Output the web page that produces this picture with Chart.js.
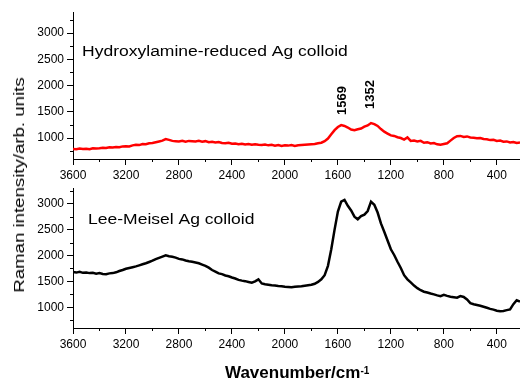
<!DOCTYPE html>
<html>
<head>
<meta charset="utf-8">
<script src="https://cdn.jsdelivr.net/npm/chart.js@4.4.0/dist/chart.umd.min.js"></script>
<style>
  body { margin: 0; background: #fff; }
  #wrap { position: relative; width: 520px; height: 381px; overflow: hidden; font-family: "Liberation Sans", Arial, sans-serif; }
  #top { position: absolute; left: 0; top: 0; }
  #bottom { position: absolute; left: 0; top: 178px; }
  .ytitle {
    position: absolute; left: 19px; top: 185px; white-space: nowrap;
    font-size: 14px; line-height: 14px; color: #000;
    transform: translate(-50%, -50%) rotate(-90deg) scaleX(1.33);
  }
  .xtitle {
    position: absolute; left: 225px; top: 364px; white-space: nowrap;
    font-size: 17px; line-height: 17px; font-weight: bold; color: #000;
  }
  .xtitle sup { font-size: 10px; position: relative; top: -2px; vertical-align: top; }
</style>
</head>
<body>
<div id="wrap">
  <canvas id="top" width="520" height="182"></canvas>
  <canvas id="bottom" width="520" height="203"></canvas>
  <div class="ytitle">Raman intensity/arb. units</div>
  <div class="xtitle">Wavenumber/cm<sup>-1</sup></div>
</div>
<script>
// wavenumbers (cm-1), shared by both spectra
const WAVENUMBERS = [
  3600, 3575, 3550, 3525, 3500, 3475, 3450, 3425, 3400, 3375, 3350, 3325, 3300, 3275, 3250, 3225,
  3200, 3175, 3150, 3125, 3100, 3075, 3050, 3025, 3000, 2975, 2950, 2925, 2900, 2875, 2850, 2825,
  2800, 2775, 2750, 2725, 2700, 2675, 2650, 2625, 2600, 2575, 2550, 2525, 2500, 2475, 2450, 2425,
  2400, 2375, 2350, 2325, 2300, 2275, 2250, 2225, 2200, 2175, 2150, 2125, 2100, 2075, 2050, 2025,
  2000, 1975, 1950, 1925, 1900, 1875, 1850, 1825, 1800, 1775, 1750, 1725, 1700, 1675, 1650, 1625,
  1600, 1575, 1550, 1525, 1500, 1475, 1450, 1425, 1400, 1375, 1350, 1325, 1300, 1275, 1250, 1225,
  1200, 1175, 1150, 1125, 1100, 1075, 1050, 1025, 1000, 975, 950, 925, 900, 875, 850, 825,
  800, 775, 750, 725, 700, 675, 650, 625, 600, 575, 550, 525, 500, 475, 450, 425,
  400, 375, 350, 325, 300, 275, 250, 225
];
// hydroxylamine-reduced colloid (red, upper panel)
const HYDROXYLAMINE = [
  790, 785, 800, 790, 795, 785, 805, 800, 805, 815, 810, 825, 820, 830, 825, 840,
  845, 840, 860, 870, 865, 885, 880, 900, 905, 920, 935, 950, 980, 965, 945, 940,
  935, 945, 930, 945, 940, 935, 945, 930, 940, 920, 930, 915, 925, 905, 900, 910,
  890, 895, 880, 890, 875, 885, 870, 880, 870, 865, 875, 860, 870, 855, 865, 850,
  860, 855, 865, 850, 860, 865, 870, 875, 880, 885, 900, 910, 940, 990, 1070, 1150,
  1210, 1245, 1230, 1200, 1160, 1150, 1165, 1180, 1215, 1240, 1285, 1265, 1230, 1170, 1120, 1085,
  1050, 1040, 1015, 1000, 970, 1010, 945, 950, 935, 945, 910, 920, 895, 905, 880, 870,
  885, 900, 950, 1000, 1035, 1040, 1020, 1030, 1010, 1005, 995, 1000, 980, 975, 960, 965,
  945, 950, 930, 935, 915, 925, 905, 915
];
// Lee-Meisel colloid (black, lower panel)
const LEE_MEISEL = [
  1680, 1670, 1685, 1665, 1670, 1660, 1665, 1650, 1660, 1645, 1640, 1655, 1660, 1675, 1700, 1720,
  1745, 1760, 1775, 1790, 1810, 1830, 1850, 1875, 1900, 1930, 1955, 1980, 2005, 1985, 1975, 1960,
  1935, 1925, 1905, 1890, 1880, 1865, 1850, 1825, 1800, 1765, 1720, 1690, 1655, 1640, 1615, 1600,
  1575, 1555, 1530, 1515, 1505, 1490, 1475, 1500, 1540, 1460, 1445, 1435, 1425, 1420, 1410, 1405,
  1395, 1390, 1385, 1395, 1400, 1405, 1415, 1425, 1435, 1455, 1490, 1540, 1620, 1800, 2120, 2500,
  2850, 3040, 3075, 2960, 2870, 2750, 2700, 2760, 2790, 2860, 3040, 2980, 2830, 2620, 2460, 2290,
  2120, 2010, 1880, 1760, 1620, 1540, 1480, 1420, 1370, 1330, 1300, 1285, 1265, 1250, 1230, 1215,
  1240, 1220, 1205, 1195, 1185, 1215, 1200, 1150, 1080, 1060, 1045, 1030, 1010, 990, 970, 955,
  935, 925, 930, 945, 960, 1060, 1135, 1110
];
const X_TICKS = [3600, 3200, 2800, 2400, 2000, 1600, 1200, 800, 400];
const X_MINOR = [3400, 3000, 2600, 2200, 1800, 1400, 1000, 600];
const Y_TICKS = [1000, 1500, 2000, 2500, 3000];
const Y_MINOR = [750, 1250, 1750, 2250, 2750, 3250];
const PEAKS = [1569, 1352];

const FONT = '"Liberation Sans", Arial, sans-serif';

// minor ticks + texts inside the plot
const extrasPlugin = {
  id: 'extras',
  afterDraw(chart, args, opts) {
    const { ctx } = chart;
    const xs = chart.scales.x, ys = chart.scales.y;
    const area = chart.chartArea;
    ctx.save();
    ctx.strokeStyle = '#000';
    ctx.lineWidth = 1;
    ctx.beginPath();
    X_MINOR.forEach(v => {
      const px = Math.round(xs.getPixelForValue(v)) + 0.5;
      ctx.moveTo(px, area.bottom);
      ctx.lineTo(px, area.bottom + 3);
    });
    Y_MINOR.forEach(v => {
      if (v > ys.max) return;
      const py = Math.round(ys.getPixelForValue(v)) + 0.5;
      ctx.moveTo(area.left, py);
      ctx.lineTo(area.left - 3, py);
    });
    ctx.stroke();

    ctx.fillStyle = '#000';
    // panel label, a bit wider than plain Arial
    ctx.save();
    ctx.translate(opts.labelX, opts.labelY);
    ctx.scale(1.13, 0.92);
    ctx.font = '15.5px ' + FONT;
    ctx.textBaseline = 'alphabetic';
    ctx.fillText(opts.label, 0, 0);
    ctx.restore();

    // rotated peak positions
    (opts.peaks || []).forEach((p, i) => {
      ctx.save();
      ctx.translate(xs.getPixelForValue(p), opts.peakY[i]);
      ctx.rotate(-Math.PI / 2);
      ctx.font = 'bold 13px ' + FONT;
      ctx.textAlign = 'left';
      ctx.textBaseline = 'middle';
      ctx.fillText(String(p), 0, 0);
      ctx.restore();
    });
    ctx.restore();
  }
};

function makeChart(id, values, color, yMax, xHeight, padTop, extras) {
  const points = WAVENUMBERS.map((w, i) => ({ x: w, y: values[i] }));
  return new Chart(document.getElementById(id), {
    type: 'line',
    data: {
      datasets: [{
        data: points,
        borderColor: color,
        borderWidth: 2.5,
        pointRadius: 0,
        tension: 0,
        fill: false
      }]
    },
    options: {
      responsive: false,
      animation: false,
      layout: { padding: { top: padTop, right: 0, left: 0, bottom: 0 } },
      plugins: { legend: { display: false }, tooltip: { enabled: false }, extras },
      scales: {
        x: {
          type: 'linear',
          reverse: true,
          min: 225,
          max: 3600,
          afterBuildTicks: s => { s.ticks = X_TICKS.map(v => ({ value: v })); },
          afterFit: s => { s.height = xHeight; },
          grid: { drawOnChartArea: false, tickLength: 6, color: '#000' },
          border: { color: '#000', width: 1 },
          ticks: { color: '#000', font: { family: FONT, size: 12 }, padding: 3, maxRotation: 0, autoSkip: false, callback: v => String(v) }
        },
        y: {
          min: 600,
          max: yMax,
          afterBuildTicks: s => { s.ticks = Y_TICKS.map(v => ({ value: v })); },
          afterFit: s => { s.width = 73; },
          grid: { drawOnChartArea: false, tickLength: 6, color: '#000' },
          border: { color: '#000', width: 1 },
          ticks: { color: '#000', font: { family: FONT, size: 12 }, padding: 3, callback: v => String(v) }
        }
      }
    },
    plugins: [extrasPlugin]
  });
}

makeChart('top', HYDROXYLAMINE, '#ff0000', 3400, 23, 12, {
  label: 'Hydroxylamine-reduced Ag colloid', labelX: 82, labelY: 56,
  peaks: PEAKS, peakY: [115, 109]
});
makeChart('bottom', LEE_MEISEL, '#000000', 3300, 53, 7, {
  label: 'Lee-Meisel Ag colloid', labelX: 88, labelY: 46,
  peaks: [], peakY: []
});
</script>
</body>
</html>
